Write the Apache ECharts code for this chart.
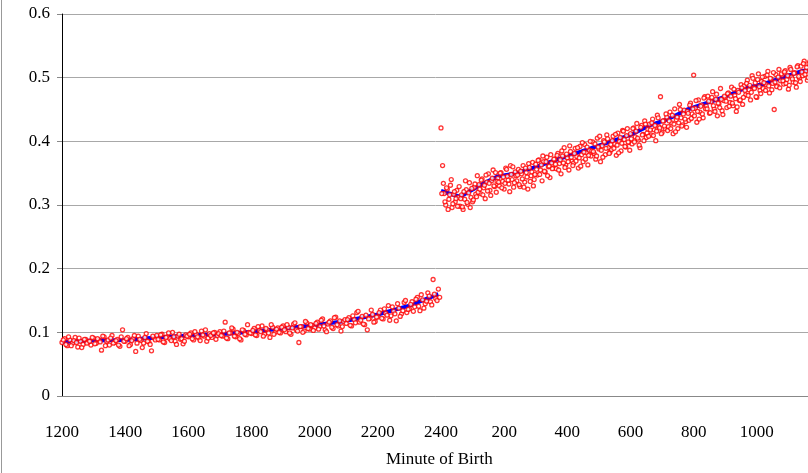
<!DOCTYPE html>
<html><head><meta charset="utf-8">
<script src="https://cdn.jsdelivr.net/npm/echarts@6/dist/echarts.min.js"></script>
<style>html,body{margin:0;padding:0;background:#fff}#c{width:808px;height:473px}</style>
</head><body><div id="c"></div>
<script>
// minutes since noon; afternoon samples every 5 min from 12:00, night samples every 3 min from 00:00
const afternoon = [
.084,.090,.079,.088,.083,.092,.077,.086,.081,.089,.085,.080,
.091,.083,.088,.072,.093,.086,.080,.095,.084,.089,.078,.104,
.086,.092,.081,.090,.070,.094,.087,.083,.098,.085,.071,.091,
.095,.088,.097,.084,.093,.090,.100,.086,.094,.089,.082,.096,
.093,.099,.088,.097,.091,.102,.094,.086,.098,.092,.100,.095,
.101,.094,.116,.090,.099,.105,.093,.098,.088,.103,.096,.100,
.098,.106,.095,.103,.110,.097,.104,.092,.108,.100,.107,.099,
.110,.101,.108,.097,.113,.104,.084,.109,.102,.115,.105,.111,
.107,.116,.109,.121,.104,.113,.118,.106,.124,.110,.102,.117,
.114,.123,.110,.120,.131,.116,.125,.112,.104,.122,.128,.117,
.124,.135,.121,.130,.142,.126,.133,.118,.138,.129,.147,.131,
.137,.148,.140,.155,.134,.151,.145,.162,.148,.183,.153,.168];
const afternoon2 = [
.088,.081,.093,.079,.087,.084,.091,.076,.089,.083,.086,.092,
.082,.090,.085,.094,.079,.088,.091,.083,.087,.080,.093,.086,
.090,.079,.087,.095,.083,.089,.076,.092,.086,.081,.094,.088,
.089,.096,.085,.092,.099,.087,.093,.081,.097,.090,.086,.094,
.097,.090,.101,.093,.087,.096,.104,.091,.095,.099,.089,.098,
.095,.102,.091,.099,.107,.094,.100,.090,.104,.097,.112,.099,
.103,.096,.109,.101,.094,.106,.099,.112,.097,.105,.100,.108,
.104,.112,.099,.107,.115,.102,.109,.100,.117,.106,.112,.103,
.114,.105,.119,.110,.101,.116,.108,.123,.112,.118,.109,.120,
.120,.111,.126,.115,.133,.119,.113,.127,.121,.135,.116,.124,
.131,.122,.137,.127,.119,.140,.129,.145,.125,.134,.150,.136,
.144,.133,.152,.141,.159,.138,.149,.157,.143,.160,.150,.155];
const night = [
.421,.362,.318,.300,.325,.309,.331,.296,.317,.305,.323,.312,
.298,.316,.293,.309,.324,.301,.335,.312,.305,.328,.317,.346,
.332,.318,.341,.327,.310,.336,.349,.323,.338,.355,.329,.320,
.342,.330,.351,.337,.325,.358,.345,.333,.362,.340,.328,.352,
.338,.356,.329,.349,.362,.336,.351,.325,.359,.346,.367,.340,
.364,.347,.371,.355,.338,.368,.352,.375,.360,.343,.366,.358,
.372,.357,.381,.365,.349,.377,.390,.363,.374,.355,.384,.369,
.366,.389,.376,.358,.392,.379,.368,.395,.382,.363,.386,.377,
.399,.381,.372,.405,.388,.368,.393,.401,.379,.410,.390,.383,
.387,.408,.396,.378,.413,.400,.385,.417,.403,.391,.420,.398,
.412,.396,.421,.407,.428,.402,.390,.425,.411,.432,.406,.419,
.427,.410,.435,.418,.401,.441,.423,.470,.414,.432,.420,.438,
.423,.446,.429,.412,.451,.434,.420,.458,.437,.426,.449,.431,
.447,.433,.460,.443,.504,.452,.430,.465,.446,.457,.437,.470,
.455,.471,.444,.462,.478,.451,.466,.440,.459,.483,.448,.464,
.469,.453,.476,.461,.485,.456,.472,.447,.480,.464,.489,.458,
.487,.473,.496,.481,.465,.503,.484,.492,.469,.506,.480,.494,
.483,.502,.489,.510,.476,.498,.491,.450,.505,.487,.513,.495,
.504,.490,.511,.497,.482,.516,.501,.493,.508,.485,.519,.499,
.518,.503,.526,.510,.496,.522,.512,.507,.528,.501,.519,.514];
const night2 = [
.318,.334,.305,.327,.293,.316,.340,.302,.321,.310,.298,.329,
.310,.297,.321,.338,.304,.319,.296,.326,.308,.333,.313,.320,
.325,.339,.316,.331,.347,.322,.334,.315,.342,.330,.351,.337,
.336,.350,.327,.344,.334,.356,.339,.321,.348,.360,.335,.346,
.347,.332,.353,.341,.328,.358,.344,.365,.337,.352,.330,.348,
.356,.370,.348,.363,.377,.353,.368,.346,.361,.379,.357,.372,
.364,.378,.355,.371,.385,.366,.359,.380,.368,.393,.375,.362,
.381,.369,.390,.374,.361,.398,.383,.372,.391,.378,.400,.385,
.384,.396,.377,.391,.408,.386,.375,.399,.389,.404,.381,.395,
.401,.389,.411,.394,.382,.406,.397,.416,.392,.409,.399,.386,
.404,.420,.399,.416,.405,.394,.422,.410,.401,.427,.413,.408,
.418,.429,.409,.425,.416,.437,.421,.412,.432,.424,.443,.417,
.432,.420,.441,.427,.415,.438,.429,.450,.424,.443,.435,.422,
.444,.457,.436,.451,.440,.464,.447,.435,.455,.443,.468,.451,
.451,.463,.445,.469,.456,.447,.474,.460,.453,.466,.442,.471,
.463,.475,.455,.471,.460,.482,.467,.454,.477,.465,.484,.469,
.480,.491,.472,.488,.477,.499,.483,.470,.497,.486,.475,.501,
.492,.480,.504,.487,.499,.481,.508,.493,.486,.501,.484,.506,
.495,.509,.491,.503,.488,.513,.498,.507,.492,.517,.502,.494,
.509,.522,.505,.516,.500,.525,.511,.504,.519,.508,.527,.515];
// trend: afternoon hourly, night every 36 min
const trendAfternoon = [.085,.087,.088,.092,.095,.097,.101,.106,.111,.118,.128,.142,.160];
const trendNight = [.322,.313,.330,.345,.350,.360,.370,.380,.390,.400,.410,.425,.435,.450,.460,.470,.483,.490,.500,.510,.515];

const pts = [];
afternoon.forEach((v,i)=>pts.push([i*5,v]));
afternoon2.forEach((v,i)=>pts.push([i*5+2.5,v]));
night.forEach((v,i)=>pts.push([720+i*3,v]));
night2.forEach((v,i)=>pts.push([721.5+i*3,v]));
const trend = [];
trendAfternoon.forEach((v,i)=>trend.push([Math.min(i*60,715),v]));
trend.push([718,null]);
trendNight.forEach((v,i)=>trend.push([720+i*36,v]));

const font = 'Liberation Serif';
const chart = echarts.init(document.getElementById('c'));
chart.setOption({
  animation:false,
  grid:{left:62,top:14,width:758,bottom:77,outerBoundsMode:'none',containLabel:false},
  xAxis:{type:'value',min:0,max:1440,interval:120,
    axisLine:{lineStyle:{color:'#888'}},axisTick:{show:false},splitLine:{show:false},
    axisLabel:{color:'#000',fontFamily:font,fontSize:17,margin:28,showMaxLabel:false,
      formatter:v=>{let h=12+v/60; if(h>24)h-=24; return String(h*100);}}},
  yAxis:{type:'value',min:0,max:0.6,interval:0.1,
    axisLine:{show:true,lineStyle:{color:'#000'}},axisTick:{show:true,length:5,lineStyle:{color:'#888'}},
    splitLine:{lineStyle:{color:'#a8a8a8'}},
    axisLabel:{color:'#000',fontFamily:font,fontSize:17,margin:12,formatter:v=>String(+v.toFixed(1))}},
  graphic:[
    {type:'text',left:386,top:451,style:{text:'Minute of Birth',font:'17px "Liberation Serif"',fill:'#000'},z:10},
    {type:'line',shape:{x1:1.5,y1:0,x2:1.5,y2:473},style:{stroke:'#999',lineWidth:1}}
  ],
  series:[
    {type:'line',data:trend,showSymbol:false,connectNulls:false,lineStyle:{color:'#0000ff',width:4},z:1},
    {type:'scatter',data:pts,symbol:'circle',symbolSize:4,
      itemStyle:{color:'#fff',borderColor:'#ff0000',borderWidth:1.3},z:2}
  ]
});
</script></body></html>
